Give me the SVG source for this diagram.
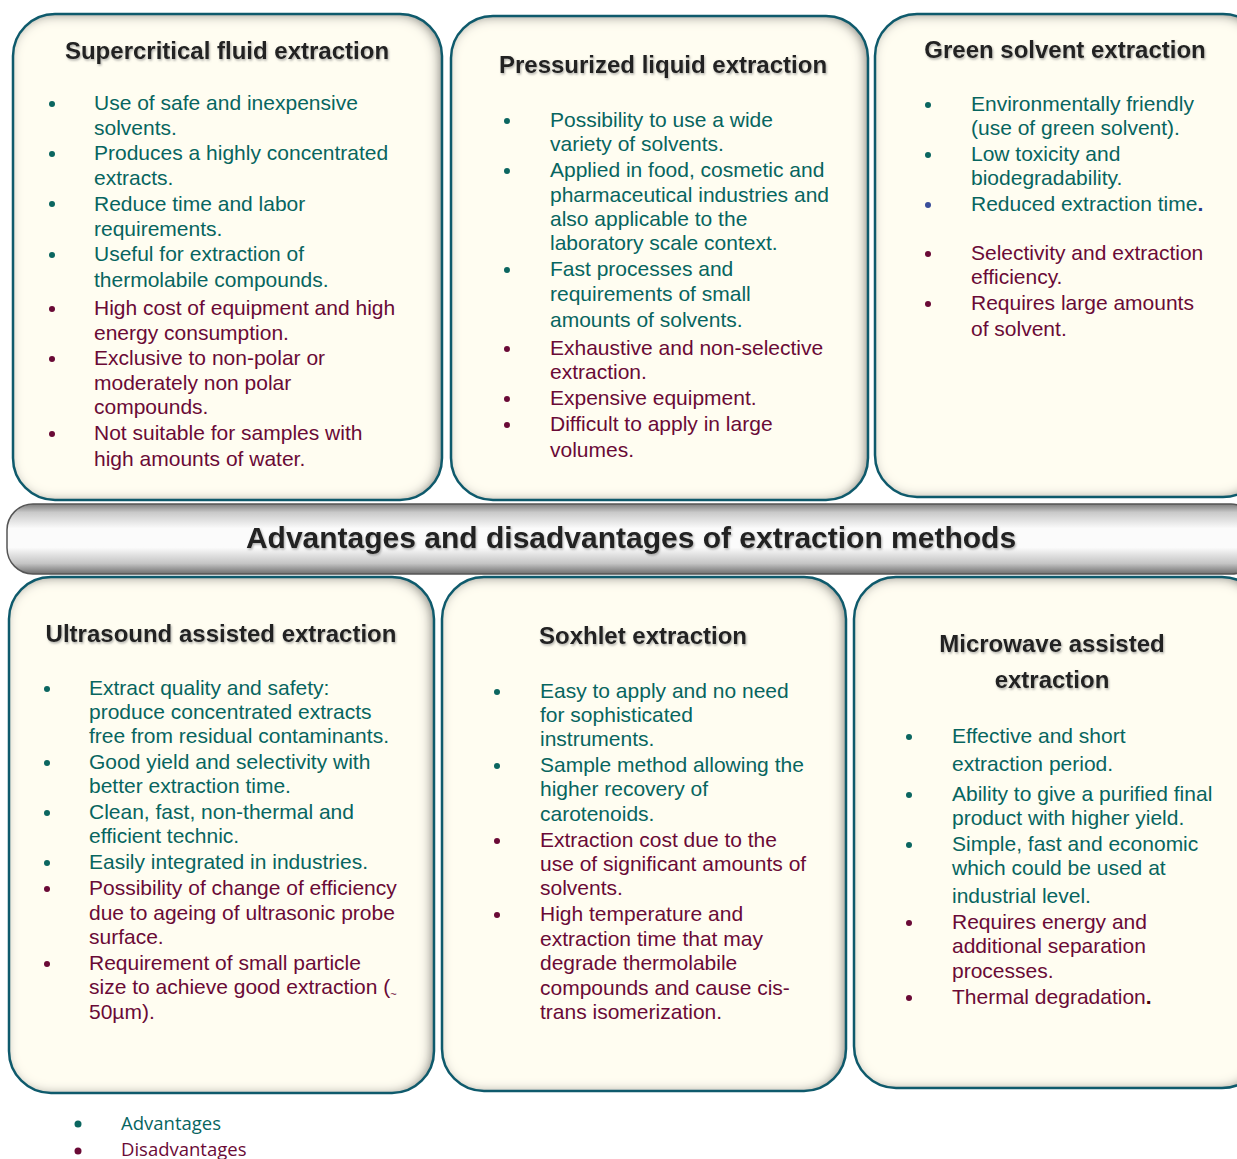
<svg xmlns="http://www.w3.org/2000/svg" width="1237" height="1159" viewBox="0 0 1237 1159">
<style>
.box{fill:#fffdf1;filter:url(#inner)}
.edge{fill:none;stroke:#0e5a6c;stroke-width:2.5}
.t{font-family:"Liberation Sans",Arial,sans-serif;font-weight:bold;font-size:24px;fill:#222;text-anchor:middle;filter:url(#tshadow)}
.a{font-family:"Liberation Sans",Arial,sans-serif;font-size:21px;fill:#07655f}
.d{font-family:"Liberation Sans",Arial,sans-serif;font-size:21px;fill:#6a0a36}
.ba{fill:#0b6660}
.bd{fill:#6a0a36}
.lg{font-family:"Open Sans","Noto Sans",sans-serif;font-size:18.5px}
</style>
<defs>
<filter id="inner" x="-5%" y="-5%" width="110%" height="110%">
<feComponentTransfer in="SourceAlpha" result="inv"><feFuncA type="table" tableValues="1 0"/></feComponentTransfer>
<feGaussianBlur in="inv" stdDeviation="6" result="blur"/>
<feOffset in="blur" dx="-3" dy="1" result="off"/>
<feFlood flood-color="#333" flood-opacity="0.9"/>
<feComposite in2="off" operator="in" result="sh"/>
<feComposite in="sh" in2="SourceAlpha" operator="in" result="ins"/>
<feMerge><feMergeNode in="SourceGraphic"/><feMergeNode in="ins"/></feMerge>
</filter>
<filter id="tshadow" x="-5%" y="-30%" width="110%" height="160%">
<feDropShadow dx="1" dy="1.5" stdDeviation="1" flood-color="#777" flood-opacity="0.6"/>
</filter>
<linearGradient id="hdr" x1="0" y1="0" x2="0" y2="1">
<stop offset="0" stop-color="#7d7d7d"/>
<stop offset="0.12" stop-color="#c9c9c9"/>
<stop offset="0.35" stop-color="#fbfbfb"/>
<stop offset="0.62" stop-color="#fbfbfb"/>
<stop offset="0.85" stop-color="#c4c4c4"/>
<stop offset="1" stop-color="#6e6e6e"/>
</linearGradient>
</defs>
<rect width="1237" height="1159" fill="#ffffff"/>

<g id="connectors"/>

<g id="supercritical">
<rect class="box" x="13" y="14" width="429" height="486" rx="42"/>
<rect class="edge" x="13" y="14" width="429" height="486" rx="42"/>
<text class="t" x="227" y="59">Supercritical fluid extraction</text>
<circle class="ba" cx="52" cy="104" r="3"/><circle class="ba" cx="52" cy="154" r="3"/><circle class="ba" cx="52" cy="204" r="3"/><circle class="ba" cx="52" cy="255" r="3"/>
<circle class="bd" cx="52" cy="309" r="3"/><circle class="bd" cx="52" cy="359" r="3"/><circle class="bd" cx="52" cy="434" r="3"/>
<text class="a" x="94" y="110">Use of safe and inexpensive</text>
<text class="a" x="94" y="135">solvents.</text>
<text class="a" x="94" y="160">Produces a highly concentrated</text>
<text class="a" x="94" y="185">extracts.</text>
<text class="a" x="94" y="211">Reduce time and labor</text>
<text class="a" x="94" y="236">requirements.</text>
<text class="a" x="94" y="261">Useful for extraction of</text>
<text class="a" x="94" y="287">thermolabile compounds.</text>
<text class="d" x="94" y="315">High cost of equipment and high</text>
<text class="d" x="94" y="340">energy consumption.</text>
<text class="d" x="94" y="365">Exclusive to non-polar or</text>
<text class="d" x="94" y="390">moderately non polar</text>
<text class="d" x="94" y="414">compounds.</text>
<text class="d" x="94" y="440">Not suitable for samples with</text>
<text class="d" x="94" y="466">high amounts of water.</text>
</g>

<g id="pressurized">
<rect class="box" x="451" y="16" width="417" height="484" rx="42"/>
<rect class="edge" x="451" y="16" width="417" height="484" rx="42"/>
<text class="t" x="663" y="73">Pressurized liquid extraction</text>
<circle class="ba" cx="507" cy="121" r="3"/><circle class="ba" cx="507" cy="171" r="3"/><circle class="ba" cx="507" cy="270" r="3"/>
<circle class="bd" cx="507" cy="349" r="3"/><circle class="bd" cx="507" cy="399" r="3"/><circle class="bd" cx="507" cy="425" r="3"/>
<text class="a" x="550" y="127">Possibility to use a wide</text>
<text class="a" x="550" y="151">variety of solvents.</text>
<text class="a" x="550" y="177">Applied in food, cosmetic and</text>
<text class="a" x="550" y="202">pharmaceutical industries and</text>
<text class="a" x="550" y="226">also applicable to the</text>
<text class="a" x="550" y="250">laboratory scale context.</text>
<text class="a" x="550" y="276">Fast processes and</text>
<text class="a" x="550" y="301">requirements of small</text>
<text class="a" x="550" y="327">amounts of solvents.</text>
<text class="d" x="550" y="355">Exhaustive and non-selective</text>
<text class="d" x="550" y="379">extraction.</text>
<text class="d" x="550" y="405">Expensive equipment.</text>
<text class="d" x="550" y="431">Difficult to apply in large</text>
<text class="d" x="550" y="457">volumes.</text>
</g>

<g id="green">
<rect class="box" x="875" y="14" width="390" height="483" rx="42"/>
<rect class="edge" x="875" y="14" width="390" height="483" rx="42"/>
<text class="t" x="1065" y="58">Green solvent extraction</text>
<circle class="ba" cx="928" cy="105" r="3"/><circle class="ba" cx="928" cy="155" r="3"/><circle cx="928" cy="205" r="3" fill="#3a4e9a"/>
<circle class="bd" cx="928" cy="254" r="3"/><circle class="bd" cx="928" cy="304" r="3"/>
<text class="a" x="971" y="111">Environmentally friendly</text>
<text class="a" x="971" y="135">(use of green solvent).</text>
<text class="a" x="971" y="161">Low toxicity and</text>
<text class="a" x="971" y="185">biodegradability.</text>
<text class="a" x="971" y="211">Reduced extraction time<tspan fill="#2a3a8a" font-weight="bold">.</tspan></text>
<text class="d" x="971" y="260">Selectivity and extraction</text>
<text class="d" x="971" y="284">efficiency.</text>
<text class="d" x="971" y="310">Requires large amounts</text>
<text class="d" x="971" y="336">of solvent.</text>
</g>

<g id="header">
<rect x="7" y="504" width="1250" height="70" rx="26" fill="url(#hdr)" stroke="#555" stroke-width="1.5"/>
<text x="631" y="548" font-family="Liberation Sans, Arial, sans-serif" font-weight="bold" font-size="30" fill="#222" text-anchor="middle" filter="url(#tshadow)">Advantages and disadvantages of extraction methods</text>
</g>

<g id="ultrasound">
<rect class="box" x="9" y="577" width="425" height="516" rx="42"/>
<rect class="edge" x="9" y="577" width="425" height="516" rx="42"/>
<text class="t" x="221" y="642">Ultrasound assisted extraction</text>
<circle class="ba" cx="47" cy="689" r="3"/><circle class="ba" cx="47" cy="763" r="3"/><circle class="ba" cx="47" cy="813" r="3"/><circle class="ba" cx="47" cy="863" r="3"/>
<circle class="bd" cx="47" cy="889" r="3"/><circle class="bd" cx="47" cy="964" r="3"/>
<text class="a" x="89" y="695">Extract quality and safety:</text>
<text class="a" x="89" y="719">produce concentrated extracts</text>
<text class="a" x="89" y="743">free from residual contaminants.</text>
<text class="a" x="89" y="769">Good yield and selectivity with</text>
<text class="a" x="89" y="793">better extraction time.</text>
<text class="a" x="89" y="819">Clean, fast, non-thermal and</text>
<text class="a" x="89" y="843">efficient technic.</text>
<text class="a" x="89" y="869">Easily integrated in industries.</text>
<text class="d" x="89" y="895">Possibility of change of efficiency</text>
<text class="d" x="89" y="920">due to ageing of ultrasonic probe</text>
<text class="d" x="89" y="944">surface.</text>
<text class="d" x="89" y="970">Requirement of small particle</text>
<text class="d" x="89" y="994">size to achieve good extraction (<tspan font-size="11" dy="4">~</tspan></text>
<text class="d" x="89" y="1019">50µm).</text>
</g>

<g id="soxhlet">
<rect class="box" x="442" y="577" width="404" height="514" rx="42"/>
<rect class="edge" x="442" y="577" width="404" height="514" rx="42"/>
<text class="t" x="643" y="644">Soxhlet extraction</text>
<circle class="ba" cx="497" cy="692" r="3"/><circle class="ba" cx="497" cy="766" r="3"/>
<circle class="bd" cx="497" cy="841" r="3"/><circle class="bd" cx="497" cy="915" r="3"/>
<text class="a" x="540" y="698">Easy to apply and no need</text>
<text class="a" x="540" y="722">for sophisticated</text>
<text class="a" x="540" y="746">instruments.</text>
<text class="a" x="540" y="772">Sample method allowing the</text>
<text class="a" x="540" y="796">higher recovery of</text>
<text class="a" x="540" y="821">carotenoids.</text>
<text class="d" x="540" y="847">Extraction cost due to the</text>
<text class="d" x="540" y="871">use of significant amounts of</text>
<text class="d" x="540" y="895">solvents.</text>
<text class="d" x="540" y="921">High temperature and</text>
<text class="d" x="540" y="946">extraction time that may</text>
<text class="d" x="540" y="970">degrade thermolabile</text>
<text class="d" x="540" y="995">compounds and cause cis-</text>
<text class="d" x="540" y="1019">trans isomerization.</text>
</g>

<g id="microwave">
<rect class="box" x="854" y="577" width="410" height="511" rx="42"/>
<rect class="edge" x="854" y="577" width="410" height="511" rx="42"/>
<text class="t" x="1052" y="652">Microwave assisted</text>
<text class="t" x="1052" y="688">extraction</text>
<circle class="ba" cx="909" cy="737" r="3"/><circle class="ba" cx="909" cy="795" r="3"/><circle class="ba" cx="909" cy="845" r="3"/>
<circle class="bd" cx="909" cy="923" r="3"/><circle class="bd" cx="909" cy="998" r="3"/>
<text class="a" x="952" y="743">Effective and short</text>
<text class="a" x="952" y="771">extraction period.</text>
<text class="a" x="952" y="801">Ability to give a purified final</text>
<text class="a" x="952" y="825">product with higher yield.</text>
<text class="a" x="952" y="851">Simple, fast and economic</text>
<text class="a" x="952" y="875">which could be used at</text>
<text class="a" x="952" y="903">industrial level.</text>
<text class="d" x="952" y="929">Requires energy and</text>
<text class="d" x="952" y="953">additional separation</text>
<text class="d" x="952" y="978">processes.</text>
<text class="d" x="952" y="1004">Thermal degradation<tspan fill="#4a0000" font-weight="bold">.</tspan></text>
</g>

<g id="legend">
<circle class="ba" cx="78" cy="1124" r="3.5"/>
<circle class="bd" cx="78" cy="1151" r="3.5"/>
<text class="lg" x="121" y="1130" fill="#07655f">Advantages</text>
<text class="lg" x="121" y="1156" fill="#6a0a36">Disadvantages</text>
</g>
</svg>
